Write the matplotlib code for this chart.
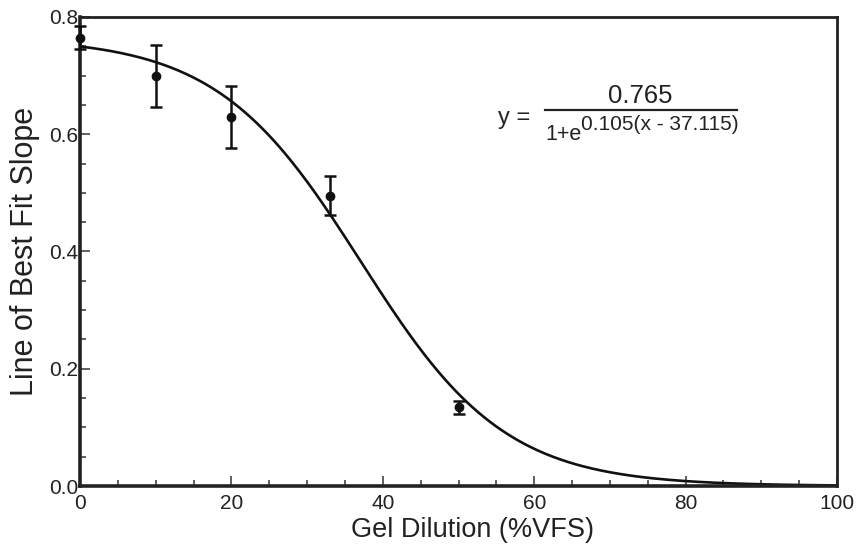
import numpy as np
import matplotlib.pyplot as plt
from matplotlib.ticker import MultipleLocator, FormatStrFormatter

plt.rcParams['font.family'] = ['Liberation Sans', 'DejaVu Sans']

# measured points
dilution = [0, 10, 20, 33, 50]
slope = [0.765, 0.699, 0.630, 0.495, 0.134]
slope_err = [0.019, 0.053, 0.053, 0.033, 0.011]

# logistic fit parameters shown on the chart
fit_a = 0.765
fit_k = 0.105
fit_x0 = 37.115

fig = plt.figure(figsize=(8.57, 5.48), dpi=100)
ax = fig.add_axes([80 / 857, 62 / 548, 757 / 857, 469 / 548])

xs = np.linspace(0, 100, 400)
ax.plot(xs, fit_a / (1 + np.exp(fit_k * (xs - fit_x0))), color='#111111', lw=1.9)
ax.errorbar(dilution, slope, yerr=slope_err, fmt='o', color='#111111', ms=6,
            elinewidth=1.8, capsize=4.5, capthick=1.8, clip_on=False, zorder=5)

ax.set_xlim(0, 100)
ax.set_ylim(0, 0.8)
ax.xaxis.set_major_locator(MultipleLocator(20))
ax.xaxis.set_minor_locator(MultipleLocator(5))
ax.yaxis.set_major_locator(MultipleLocator(0.2))
ax.yaxis.set_minor_locator(MultipleLocator(0.05))
ax.yaxis.set_major_formatter(FormatStrFormatter('%.1f'))
ax.tick_params(which='major', direction='in', length=7, width=1.2, color='#444444',
               labelsize=15, labelcolor='#222222')
ax.tick_params(axis='x', which='major', pad=5.5)
ax.tick_params(axis='y', which='major', pad=1.5)
ax.tick_params(which='minor', direction='in', length=4.5, width=1.2, color='#444444')

for side in ['left', 'bottom']:
    ax.spines[side].set_linewidth(2.6)
for side in ['top', 'right']:
    ax.spines[side].set_linewidth(2.0)
for sp in ax.spines.values():
    sp.set_color('#222222')

ax.set_xlabel('Gel Dilution (%VFS)', fontsize=19.5, color='#222222')
ax.xaxis.set_label_coords((473 - 80) / 757, -0.066)
ax.set_ylabel('Line of Best Fit Slope', fontsize=22, color='#222222', labelpad=6)

# fit equation
def fy(px):
    return 1 - px / 548

fig.text(498 / 857, fy(118), 'y =', fontsize=17, va='center', ha='left', color='#222222')
fig.text(640 / 857, fy(103), '0.765', fontsize=18.5, va='baseline', ha='center', color='#222222')
fig.add_artist(plt.Line2D([545 / 857, 737 / 857], [fy(110), fy(110)], color='#222222', lw=1.6))
fig.text(545 / 857, fy(140), '1+e', fontsize=15.5, va='baseline', ha='left', color='#222222')
fig.text(581 / 857, fy(130), '0.105(x - 37.115)', fontsize=15, va='baseline', ha='left',
         color='#222222')

fig.savefig('out.png', dpi=100)
